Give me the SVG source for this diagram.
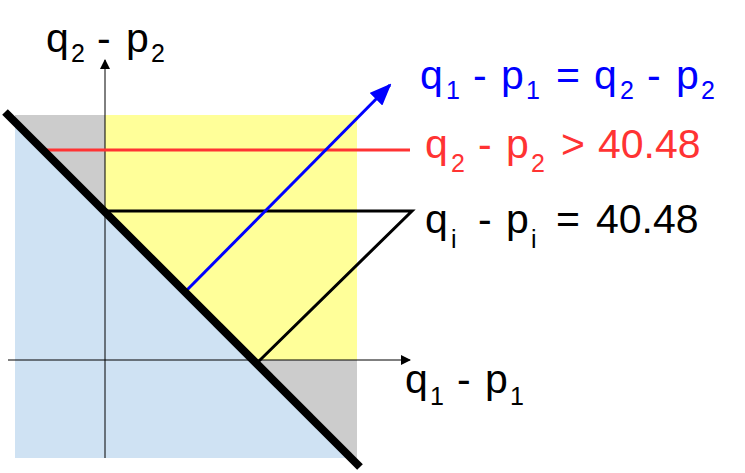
<svg xmlns="http://www.w3.org/2000/svg" width="745" height="473" viewBox="0 0 745 473">
<style>
text{font-family:"Liberation Sans",Arial,sans-serif;font-size:41px}
.s{font-size:25px}
.ax{stroke:#000;stroke-width:1;fill:none}
</style>
<defs>
<marker id="ah" markerWidth="10" markerHeight="10" refX="9" refY="5" orient="auto" markerUnits="userSpaceOnUse"><path d="M0,0L10,5L0,10z" fill="#000"/></marker>
<marker id="bh" markerWidth="22" markerHeight="18" refX="20" refY="9" orient="auto" markerUnits="userSpaceOnUse"><path d="M0,0L22,9L0,18z" fill="#00f"/></marker>
</defs>
<g id="regions">
<rect x="15" y="115" width="342" height="343" fill="#ccc"/>
<rect x="105" y="115" width="252" height="245" fill="#ffff99"/>
<polygon points="15,122 351,458 15,458" fill="#cfe2f3"/>
</g>
<g id="connectors">
<line class="ax" x1="105" y1="458" x2="105" y2="60" marker-end="url(#ah)"/>
<line class="ax" x1="8" y1="360" x2="410" y2="360" marker-end="url(#ah)"/>
<line x1="45" y1="150" x2="410" y2="150" stroke="#f33" stroke-width="3"/>
<polyline points="105,211 412,211 258,362" fill="none" stroke="#000" stroke-width="3"/>
<line x1="187" y1="290" x2="390" y2="85" stroke="#00f" stroke-width="3" marker-end="url(#bh)"/>
<line x1="5" y1="112" x2="360" y2="467" stroke="#000" stroke-width="8"/>
</g>
<g id="labels">
<text y="52"><tspan x="46">q</tspan><tspan class="s" x="71" dy="10">2</tspan><tspan x="97" dy="-10">-</tspan><tspan x="126">p</tspan><tspan class="s" x="151" dy="10">2</tspan></text>
<text y="89" fill="#00f"><tspan x="420">q</tspan><tspan class="s" x="446" dy="10">1</tspan><tspan x="473" dy="-10">-</tspan><tspan x="501">p</tspan><tspan class="s" x="526" dy="10">1</tspan><tspan x="556" dy="-10">=</tspan><tspan x="594">q</tspan><tspan class="s" x="620" dy="10">2</tspan><tspan x="647" dy="-10">-</tspan><tspan x="676">p</tspan><tspan class="s" x="701" dy="10">2</tspan></text>
<text y="158" fill="#f33"><tspan x="425">q</tspan><tspan class="s" x="451" dy="14">2</tspan><tspan x="478" dy="-14">-</tspan><tspan x="506">p</tspan><tspan class="s" x="531" dy="14">2</tspan><tspan x="561" dy="-14">&gt;</tspan><tspan x="598">40.48</tspan></text>
<text y="233"><tspan x="425">q</tspan><tspan class="s" x="451" dy="15">i</tspan><tspan x="478" dy="-15">-</tspan><tspan x="506">p</tspan><tspan class="s" x="531" dy="15">i</tspan><tspan x="556" dy="-15">=</tspan><tspan x="596">40.48</tspan></text>
<text y="393"><tspan x="405">q</tspan><tspan class="s" x="430" dy="12">1</tspan><tspan x="457" dy="-12">-</tspan><tspan x="485">p</tspan><tspan class="s" x="510" dy="12">1</tspan></text>
</g>
</svg>
